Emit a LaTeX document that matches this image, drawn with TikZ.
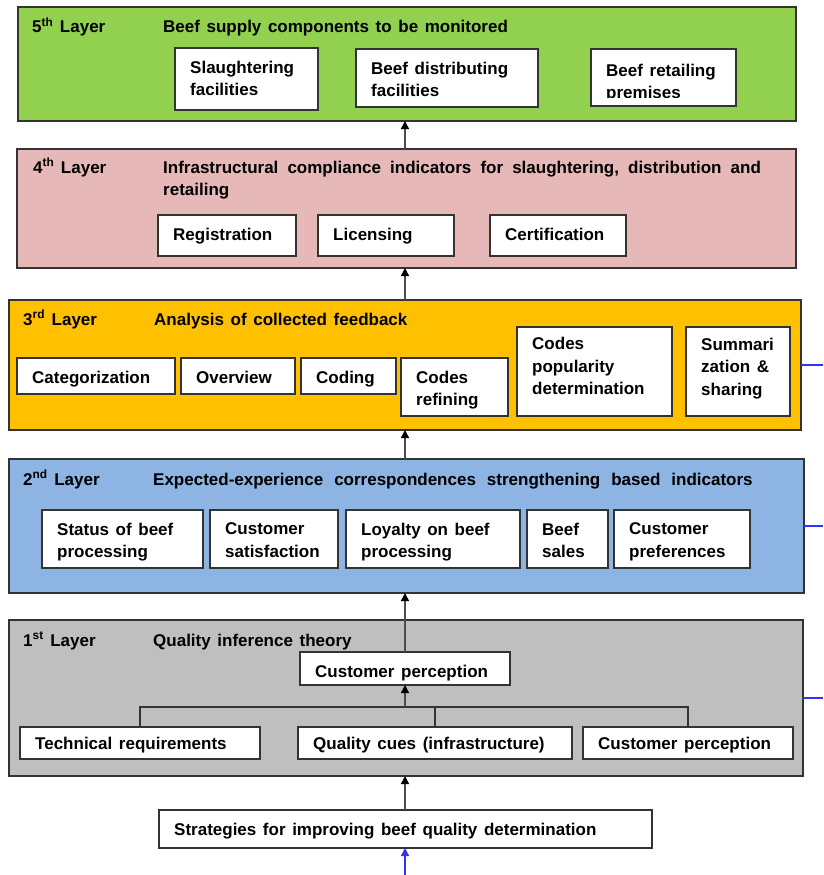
\documentclass[tikz,border=0pt]{standalone}
\usepackage{fontspec}
\setmainfont{Liberation Sans}[WordSpace=1.4]
\usetikzlibrary{arrows.meta}
\definecolor{lgreen}{HTML}{92D050}
\definecolor{lpink}{HTML}{E6B9B8}
\definecolor{lorange}{HTML}{FFC000}
\definecolor{lblue}{HTML}{8DB4E2}
\definecolor{lgray}{HTML}{BFBFBF}
\definecolor{myblue}{RGB}{50,50,255}
\newcommand\txtfont{\fontsize{17}{22.5}\selectfont\bfseries}
% name, x, y, w, h, text top offset, text
\newcommand\mycell[7]{%
  \node[cellbox, minimum width=#4pt, minimum height=#5pt] (#1) at (#2,#3) {};
  \node[celltext] (#1t) at ([xshift=15pt,yshift=-#6pt]#1.north west) {#7};}
% name, x, y, w, h, text top offset, text, clip margin
\newcommand\myclipcell[8]{%
  \node[cellbox, minimum width=#4pt, minimum height=#5pt] (#1) at (#2,#3) {};
  \begin{scope}
    \clip ([yshift=#8pt]#1.south west) rectangle (#1.north east);
    \node[celltext] (#1t) at ([xshift=15pt,yshift=-#6pt]#1.north west) {#7};
  \end{scope}}
\begin{document}
\begin{tikzpicture}[x=1pt,y=-1pt,
  layer/.style={draw=black!80, line width=1.2pt, anchor=north west, inner sep=0, outer sep=0},
  cellbox/.style={draw=black!80, fill=white, line width=1.2pt, anchor=north west, inner sep=0, outer sep=0},
  celltext/.style={anchor=north west, align=left, inner sep=0, font=\txtfont},
  ttl/.style={anchor=base west, inner sep=0, font=\txtfont},
  arr/.style={draw=black!70, line width=1.4pt, -{Triangle[length=8pt,width=8pt,color=black]}},
  conn/.style={draw=black!80, line width=1.3pt},
  bline/.style={draw=myblue, line width=1.4pt},
  barr/.style={draw=myblue, line width=1.4pt, -{Triangle[length=8pt,width=8pt]}}]
\useasboundingbox (0,0) rectangle (823,875);
\coordinate (col) at (405,0);
\coordinate (R) at (823,0);
\coordinate (bus) at (0,707);
\coordinate (bottom) at (405,875);

% layers
\node[layer, fill=lgreen,  minimum width=778pt, minimum height=114pt] (L5) at (18,7) {};
\node[layer, fill=lpink,   minimum width=779pt, minimum height=119pt] (L4) at (17,149) {};
\node[layer, fill=lorange, minimum width=792pt, minimum height=130pt] (L3) at (9,300) {};
\node[layer, fill=lblue,   minimum width=795pt, minimum height=134pt] (L2) at (9,459) {};
\node[layer, fill=lgray,   minimum width=794pt, minimum height=156pt] (L1) at (9,620) {};

% layer titles
\node[ttl] (L5a) at (32,33) {5\textsuperscript{th} Layer};
\node[ttl] (L5b) at (163,33) {Beef supply components to be monitored};
\node[ttl] (L4a) at (33,173) {4\textsuperscript{th} Layer};
\node[ttl] (L4b) at (163,173) {\spaceskip=9.1pt Infrastructural compliance indicators for slaughtering, distribution and};
\node[ttl] (L4c) at (163,195) {retailing};
\node[ttl] (L3a) at (23,325) {3\textsuperscript{rd} Layer};
\node[ttl] (L3b) at (154,325) {Analysis of collected feedback};
\node[ttl] (L2a) at (23,485) {2\textsuperscript{nd} Layer};
\node[ttl] (L2b) at (153,485) {\spaceskip=11pt Expected-experience correspondences strengthening based indicators};
\node[ttl] (L1a) at (23,646) {1\textsuperscript{st} Layer};
\node[ttl] (L1b) at (153,646) {Quality inference theory};

% layer 5 cells
\mycell{sl}{175}{48}{143}{62}{12.8}{Slaughtering\\facilities}
\mycell{dist}{356}{49}{182}{58}{12.8}{Beef distributing\\facilities}
\myclipcell{ret}{591}{49}{145}{57}{14.8}{Beef retailing\\premises}{8.5}

% layer 4 cells
\mycell{reg}{158}{215}{138}{41}{12.8}{Registration}
\mycell{lic}{318}{215}{136}{41}{12.8}{Licensing}
\mycell{cert}{490}{215}{136}{41}{12.8}{Certification}

% layer 3 cells
\mycell{cat}{17}{358}{158}{36}{12.5}{Categorization}
\mycell{ov}{181}{358}{114}{36}{12.5}{Overview}
\mycell{cod}{301}{358}{95}{36}{12.5}{Coding}
\mycell{cref}{401}{358}{107}{58}{12.8}{Codes\\refining}
\mycell{cpop}{517}{327}{155}{89}{10}{Codes\\popularity\\determination}
\mycell{sum}{686}{327}{104}{89}{10.5}{Summari\\zation \&\\sharing}

% layer 2 cells
\mycell{stat}{42}{510}{161}{58}{12.8}{Status of beef\\processing}
\mycell{csat}{210}{510}{128}{58}{12.8}{Customer\\satisfaction}
\mycell{loy}{346}{510}{174}{58}{12.8}{Loyalty on beef\\processing}
\mycell{bs}{527}{510}{81}{58}{12.8}{Beef\\sales}
\mycell{cpref}{614}{510}{136}{58}{12.8}{Customer\\preferences}

% layer 1 cells
\myclipcell{cpt}{300}{652}{210}{33}{13}{Customer perception}{4.5}
\myclipcell{tech}{20}{727}{240}{32}{10.3}{Technical requirements}{7}
\myclipcell{qc}{298}{727}{274}{32}{10.3}{Quality cues (infrastructure)}{7}
\myclipcell{cpb}{583}{727}{210}{32}{10.3}{Customer perception}{7}

% strategies
\mycell{strat}{159}{810}{493}{38}{12.8}{Strategies for improving beef quality determination}

% tree in layer 1
\draw[conn] (tech.north) |- (cpb.north |- bus) -- (cpb.north);
\draw[conn] (qc.north) -- (qc.north |- bus);
\draw[arr] (cpt.south |- bus) -- (cpt.south);

% arrows between layers
\draw[arr] (col |- L4.north) -- (col |- L5.south);
\draw[arr] (col |- L3.north) -- (col |- L4.south);
\draw[arr] (col |- L2.north) -- (col |- L3.south);
\draw[arr] (cpt.north) -- (cpt.north |- L2.south);
\draw[arr] (col |- strat.north) -- (col |- L1.south);
\draw[barr] (bottom) -- (bottom |- strat.south);

% blue side lines
\draw[bline] (L3.east) -- (R |- L3.east);
\draw[bline] (L2.east) -- (R |- L2.east);
\draw[bline] (L1.east) -- (R |- L1.east);
\end{tikzpicture}
\end{document}
